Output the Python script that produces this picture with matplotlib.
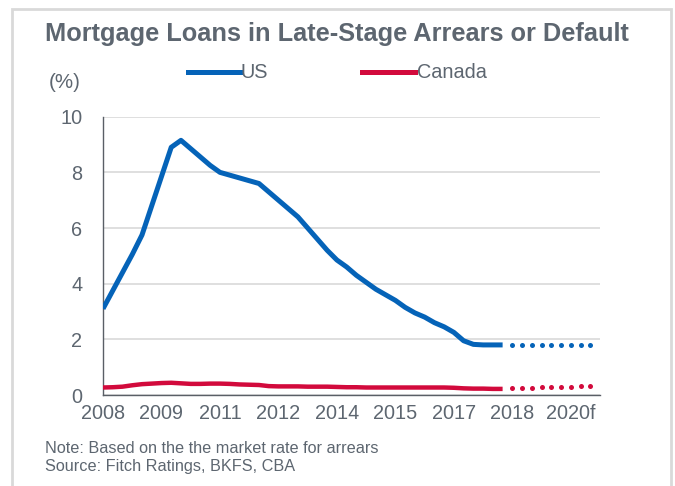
import matplotlib.pyplot as plt
from matplotlib.patches import Rectangle
from matplotlib.lines import Line2D

plt.rcParams["font.family"] = ["Liberation Sans", "DejaVu Sans"]

# ----------------------------
# Data: quarterly, index 0 = 2008Q1
# ----------------------------
usActual = [
    3.1, 3.75, 4.4, 5.05, 5.75, 6.8, 7.85, 8.9, 9.15, 8.85,
    8.55, 8.25, 8.0, 7.9, 7.8, 7.7, 7.6, 7.3, 7.0, 6.7,
    6.4, 6.0, 5.6, 5.2, 4.85, 4.6, 4.3, 4.05, 3.8, 3.6,
    3.4, 3.15, 2.95, 2.8, 2.6, 2.45, 2.25, 1.95, 1.82, 1.8,
    1.8, 1.8,
]
canadaActual = [
    0.27, 0.28, 0.30, 0.35, 0.39, 0.41, 0.43, 0.44, 0.42, 0.40,
    0.40, 0.41, 0.41, 0.40, 0.38, 0.37, 0.36, 0.32, 0.31, 0.31,
    0.31, 0.30, 0.30, 0.30, 0.29, 0.28, 0.28, 0.27, 0.27, 0.27,
    0.27, 0.27, 0.27, 0.27, 0.27, 0.27, 0.26, 0.24, 0.23, 0.23,
    0.22, 0.22,
]
usForecast = [1.8, 1.8, 1.8, 1.8, 1.8, 1.8, 1.8, 1.8, 1.8]
canadaForecast = [0.26, 0.27, 0.27, 0.28, 0.29, 0.29, 0.30, 0.31, 0.32]

tickLabels = ["2008", "2009", "2011", "2012", "2014", "2015", "2017", "2018", "2020f"]
tickQuarters = [0, 6, 12, 18, 24, 30, 36, 42, 48]

actualX = list(range(len(usActual)))
forecastX = list(range(len(usActual), len(usActual) + len(usForecast)))

blue = "#0563b8"
red = "#d20a3c"
textGray = "#5d6670"
gridGray = "#d9d9d9"

fig = plt.figure(figsize=(6.75, 4.86), dpi=100)
ax = fig.add_axes([0.1526, 0.1872, 0.889 - 0.1526, 0.7599 - 0.1872])

ax.plot(actualX, usActual, color=blue, linewidth=3.6, solid_capstyle="butt", zorder=3)
ax.plot(actualX, canadaActual, color=red, linewidth=3.2, solid_capstyle="butt", zorder=3)
ax.plot(forecastX, usForecast, linestyle="none", marker="o", markersize=3.6,
        color=blue, markeredgewidth=0, zorder=3)
ax.plot(forecastX, canadaForecast, linestyle="none", marker="o", markersize=3.6,
        color=red, markeredgewidth=0, zorder=3)

ax.set_xlim(0, 51)
ax.set_ylim(0, 10)
ax.set_yticks([0, 2, 4, 6, 8, 10])
ax.set_xticks(tickQuarters)
ax.set_xticklabels(tickLabels)
ax.tick_params(axis="both", length=0, labelsize=14.3, colors=textGray)
ax.tick_params(axis="x", pad=6.5)
ax.tick_params(axis="y", pad=15)
ax.grid(axis="y", color=gridGray, linewidth=1.2)
ax.set_axisbelow(True)
for side in ["top", "right"]:
    ax.spines[side].set_visible(False)
for side in ["left", "bottom"]:
    ax.spines[side].set_color("#5a5f66")
    ax.spines[side].set_linewidth(1.0)

# Title, unit label, legend
fig.text(0.4985, 1 - 34 / 486, "Mortgage Loans in Late-Stage Arrears or Default",
         ha="center", va="center", fontsize=18.3, fontweight="bold", color=textGray)
fig.text(49 / 675, 1 - 82 / 486, "(%)", ha="left", va="center", fontsize=14.8, color=textGray)

legendY = 1 - 72 / 486
fig.add_artist(Line2D([188 / 675, 240 / 675], [legendY, legendY], color=blue, linewidth=3.6))
fig.text(241 / 675, legendY, "US", ha="left", va="center", fontsize=14.3, color=textGray)
fig.add_artist(Line2D([362 / 675, 415 / 675], [legendY, legendY], color=red, linewidth=3.6))
fig.text(417 / 675, legendY, "Canada", ha="left", va="center", fontsize=14.3, color=textGray)

# Footnotes
fig.text(45 / 675, 1 - 448 / 486, "Note: Based on the the market rate for arrears",
         ha="left", va="center", fontsize=11.7, color=textGray)
fig.text(45 / 675, 1 - 466 / 486, "Source: Fitch Ratings, BKFS, CBA",
         ha="left", va="center", fontsize=11.7, color=textGray)

# Light frame around the chart
fig.add_artist(Rectangle((12 / 675, -0.02), 659 / 675, 1 - 9 / 486 + 0.02,
                         transform=fig.transFigure, fill=False,
                         edgecolor=gridGray, linewidth=2))

fig.savefig("out.png", dpi=100)
